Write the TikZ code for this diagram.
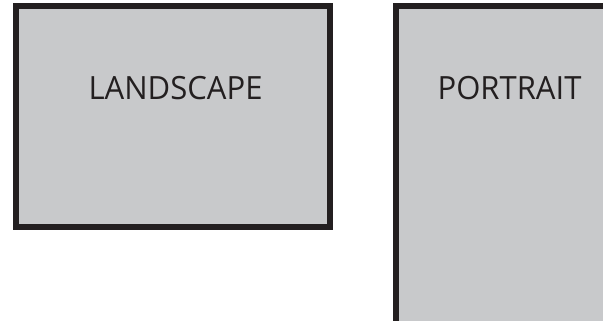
\documentclass[tikz,border=0pt]{standalone}
\usepackage{fontspec}
\setmainfont{Open Sans}
\definecolor{panelgray}{HTML}{C8C9CB}
\definecolor{edgedark}{HTML}{231F20}
\begin{document}
\begin{tikzpicture}[x=1pt,y=1pt,
  panel/.style={draw=edgedark,fill=panelgray,line width=5.8pt},
  label/.style={anchor=base,text=edgedark,inner sep=0pt,font=\fontsize{32}{32}\selectfont}]
\useasboundingbox (0,0) rectangle (603,321);
\clip (0,0) rectangle (603,321);
\draw[panel] (16,315) rectangle (330,94);
\draw[panel] (396,315) rectangle (612,-6);
\node[label] (land) at (175.5,221) {\scalebox{0.97}[1]{LANDSCAPE}};
\node[label] (port) at (509.5,221) {\scalebox{0.97}[1]{PORTRAIT}};
\end{tikzpicture}
\end{document}
